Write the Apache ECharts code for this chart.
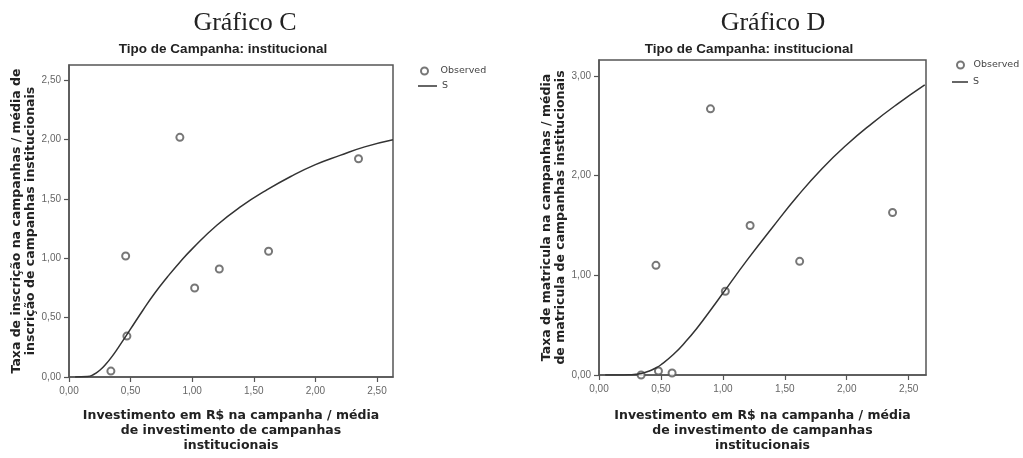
<!DOCTYPE html>
<html>
<head>
<meta charset="utf-8">
<title>Gráfico C / Gráfico D</title>
<script src="https://cdn.jsdelivr.net/npm/echarts@6/dist/echarts.min.js"></script>
<style>
html, body { margin: 0; padding: 0; background: #fff; }
#myChart { width: 1023px; height: 458px; }
</style>
</head>
<body>
<div id="myChart"></div>
<script>
// pontos observados - Gráfico C (inscrição)
var obsXC = [0.90, 2.35, 0.46, 1.62, 1.22, 1.02, 0.47, 0.34];
var obsYC = [2.02, 1.84, 1.02, 1.06, 0.91, 0.75, 0.345, 0.05];
// pontos observados - Gráfico D (matrícula)
var obsXD = [0.90, 2.37, 1.22, 0.46, 1.62, 1.02, 0.34, 0.48, 0.59];
var obsYD = [2.67, 1.63, 1.50, 1.10, 1.14, 0.84, 0.00, 0.04, 0.02];
// curva S
var curveX = [0.05, 0.15, 0.2, 0.25, 0.3, 0.35, 0.4, 0.45, 0.5, 0.6, 0.7, 0.8, 0.9, 1.0, 1.2, 1.4, 1.6, 1.8, 2.0, 2.2, 2.4, 2.63];
var curveC = [0, 0.004, 0.021, 0.057, 0.109, 0.174, 0.248, 0.326, 0.405, 0.563, 0.712, 0.845, 0.968, 1.08, 1.279, 1.44, 1.573, 1.69, 1.79, 1.868, 1.94, 2.00];
var curveD = [0, 0, 0, 0.002, 0.007, 0.018, 0.037, 0.065, 0.103, 0.205, 0.335, 0.484, 0.65, 0.82, 1.16, 1.48, 1.79, 2.07, 2.31, 2.52, 2.71, 2.91];
// marcas dos eixos
var xTicks = [0, 0.5, 1, 1.5, 2, 2.5];
var yTicksC = [0, 0.5, 1, 1.5, 2, 2.5];
var yTicksD = [0, 1, 2, 3];

function zip(xs, ys) {
  return xs.map(function (x, i) { return [x, ys[i]]; });
}
function fmt(v) {
  return v.toFixed(2).replace('.', ',');
}

var gray = '#555';
var axisTitleStyle = {
  fontFamily: 'DejaVu Sans',
  fontWeight: 'bold',
  fontSize: 12.5,
  lineHeight: 15,
  color: '#222'
};

function xAxisOf(gridIndex, max, gap) {
  return {
    type: 'value',
    gridIndex: gridIndex,
    min: 0,
    max: max,
    name: 'Investimento em R$ na campanha / média\nde investimento de campanhas\ninstitucionais',
    nameLocation: 'middle',
    nameGap: gap,
    nameTextStyle: axisTitleStyle,
    splitLine: { show: false },
    axisLine: { onZero: false, lineStyle: { color: gray, width: 1.5 } },
    axisTick: { length: 5, customValues: xTicks, lineStyle: { color: gray, width: 1.2 } },
    axisLabel: {
      customValues: xTicks,
      formatter: fmt,
      margin: 9,
      fontFamily: 'Liberation Sans',
      fontSize: 10,
      color: '#666'
    }
  };
}

function yAxisOf(gridIndex, max, ticks, name, gap) {
  return {
    type: 'value',
    gridIndex: gridIndex,
    min: 0,
    max: max,
    name: name,
    nameLocation: 'middle',
    nameRotate: 90,
    nameGap: gap,
    nameTextStyle: Object.assign({}, axisTitleStyle, { lineHeight: 14 }),
    splitLine: { show: false },
    axisLine: { onZero: false, lineStyle: { color: gray, width: 1.5 } },
    axisTick: { length: 5, customValues: ticks, lineStyle: { color: gray, width: 1.2 } },
    axisLabel: {
      customValues: ticks,
      formatter: fmt,
      margin: 8,
      fontFamily: 'Liberation Sans',
      fontSize: 10,
      color: '#666'
    }
  };
}

function titleOf(text, x, y, size, family, weight) {
  return {
    text: text,
    left: x,
    top: y,
    padding: 0,
    textAlign: 'center',
    textStyle: { fontFamily: family, fontSize: size, fontWeight: weight, color: '#222' }
  };
}

var legendText = { fontFamily: 'DejaVu Sans', fontSize: 9.5, color: '#444' };

var mycharts = echarts.init(document.getElementById('myChart'));
var option = {
  animation: false,
  backgroundColor: '#fff',
  title: [
    titleOf('Gráfico C', 245, 10, 26, 'Liberation Serif', 'normal'),
    titleOf('Tipo de Campanha: institucional', 223, 42, 13.5, 'Liberation Sans', 'bold'),
    titleOf('Gráfico D', 773, 10, 26, 'Liberation Serif', 'normal'),
    titleOf('Tipo de Campanha: institucional', 749, 42, 13.5, 'Liberation Sans', 'bold')
  ],
  legend: [
    { data: [{ name: 'Observed', icon: 'emptyCircle' }], left: 420, top: 66, itemWidth: 22, itemHeight: 7, padding: 0, textStyle: legendText, selectedMode: false },
    { data: [{ name: 'S', icon: 'rect' }], left: 418, top: 81, itemWidth: 19, itemHeight: 1.5, padding: 0, textStyle: legendText, selectedMode: false },
    { data: [{ name: 'Observed', icon: 'emptyCircle' }], left: 956, top: 60, itemWidth: 16, itemHeight: 7, padding: 0, textStyle: legendText, selectedMode: false },
    { data: [{ name: 'S', icon: 'rect' }], left: 952, top: 77, itemWidth: 16, itemHeight: 1.5, padding: 0, textStyle: legendText, selectedMode: false }
  ],
  grid: [
    { left: 69, top: 65, width: 324, height: 315, show: true, borderColor: gray, borderWidth: 1.5, backgroundColor: '#fff' },
    { left: 599, top: 60, width: 327, height: 316, show: true, borderColor: gray, borderWidth: 1.5, backgroundColor: '#fff' }
  ],
  xAxis: [
    xAxisOf(0, 2.63, 31),
    xAxisOf(1, 2.64, 33)
  ],
  yAxis: [
    yAxisOf(0, 2.63, yTicksC, 'Taxa de inscrição na campanhas / média de\ninscrição de campanhas institucionais', 28),
    yAxisOf(1, 3.16, yTicksD, 'Taxa de matricula na campanhas / média\nde matricula de campanhas institucionais', 26)
  ],
  series: [
    {
      name: 'Observed', type: 'scatter', xAxisIndex: 0, yAxisIndex: 0,
      symbol: 'emptyCircle', symbolSize: 7,
      color: gray,
      itemStyle: { color: gray, borderColor: gray, borderWidth: 1.3 },
      data: zip(obsXC, obsYC)
    },
    {
      name: 'S', type: 'line', xAxisIndex: 0, yAxisIndex: 0,
      showSymbol: false, symbol: 'none', smooth: true,
      color: '#333', lineStyle: { color: '#333', width: 1.5 },
      data: zip(curveX, curveC)
    },
    {
      name: 'Observed', type: 'scatter', xAxisIndex: 1, yAxisIndex: 1,
      symbol: 'emptyCircle', symbolSize: 7,
      color: gray,
      itemStyle: { color: gray, borderColor: gray, borderWidth: 1.3 },
      data: zip(obsXD, obsYD)
    },
    {
      name: 'S', type: 'line', xAxisIndex: 1, yAxisIndex: 1,
      showSymbol: false, symbol: 'none', smooth: true,
      color: '#333', lineStyle: { color: '#333', width: 1.5 },
      data: zip(curveX, curveD)
    }
  ]
};
mycharts.setOption(option);
</script>
</body>
</html>
